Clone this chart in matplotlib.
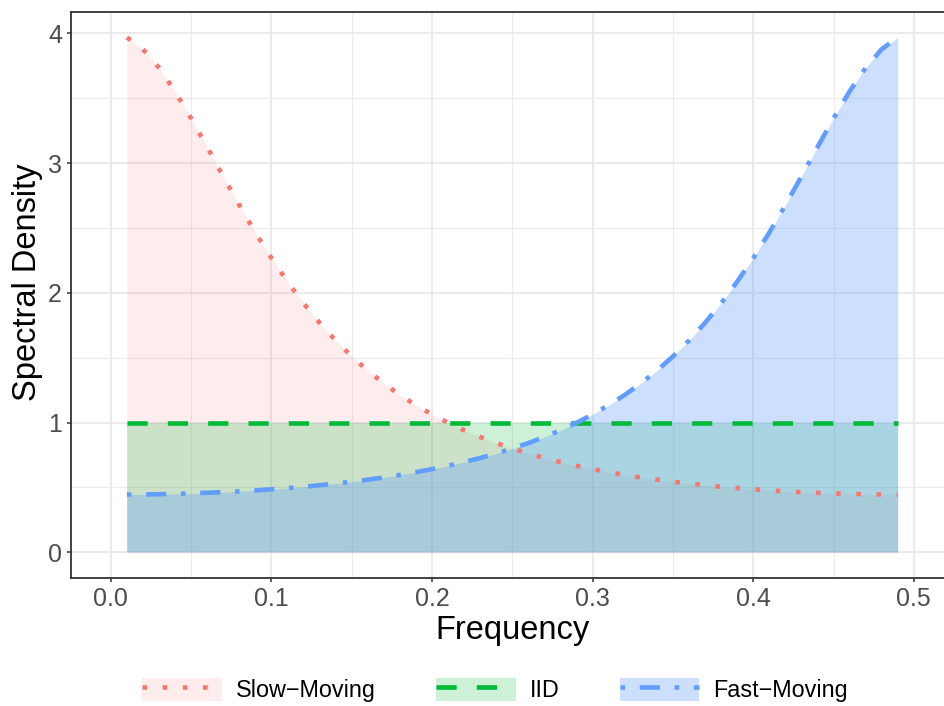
import matplotlib
matplotlib.use("Agg")
import matplotlib.pyplot as plt
from matplotlib.lines import Line2D
from matplotlib.patches import Patch
from matplotlib.ticker import MultipleLocator

plt.rcParams['font.family'] = ['Liberation Sans', 'DejaVu Sans']

freq = [0.01, 0.02, 0.03, 0.04, 0.05, 0.06, 0.07, 0.08, 0.09, 0.10,
        0.11, 0.12, 0.13, 0.14, 0.15, 0.16, 0.17, 0.18, 0.19, 0.20,
        0.21, 0.22, 0.23, 0.24, 0.25, 0.26, 0.27, 0.28, 0.29, 0.30,
        0.31, 0.32, 0.33, 0.34, 0.35, 0.36, 0.37, 0.38, 0.39, 0.40,
        0.41, 0.42, 0.43, 0.44, 0.45, 0.46, 0.47, 0.48, 0.49]
slow = [3.969, 3.878, 3.735, 3.553, 3.345, 3.123, 2.897, 2.676, 2.465, 2.268,
        2.086, 1.919, 1.769, 1.632, 1.510, 1.400, 1.302, 1.213, 1.134, 1.063,
        0.999, 0.941, 0.889, 0.842, 0.800, 0.762, 0.727, 0.696, 0.667, 0.641,
        0.618, 0.597, 0.577, 0.560, 0.544, 0.530, 0.517, 0.505, 0.495, 0.486,
        0.477, 0.470, 0.464, 0.459, 0.454, 0.451, 0.448, 0.446, 0.445]
iid = [1.0] * 49
fast = [0.445, 0.446, 0.448, 0.451, 0.454, 0.459, 0.464, 0.470, 0.477, 0.486,
        0.495, 0.505, 0.517, 0.530, 0.544, 0.560, 0.577, 0.597, 0.618, 0.641,
        0.667, 0.696, 0.727, 0.762, 0.800, 0.842, 0.889, 0.941, 0.999, 1.063,
        1.134, 1.213, 1.302, 1.400, 1.510, 1.632, 1.769, 1.919, 2.086, 2.268,
        2.465, 2.676, 2.897, 3.123, 3.345, 3.553, 3.735, 3.878, 3.969]

labels = ['Slow\u2212Moving', 'IID', 'Fast\u2212Moving']
colors = ['#F8766D', '#00BA38', '#619CFF']
alphas = [0.13, 0.2, 0.32]
styles = [(0, (1, 3.4)), (0, (4.4, 4.4)), (0, (1, 3.2, 4.4, 3.2))]
series = [slow, iid, fast]

fig = plt.figure(figsize=(9.45, 7.06), dpi=100)
ax = fig.add_axes([0.0748, 0.1813, 0.9347, 0.8021])

# shaded areas first, then the curves on top
for y, c, a in zip(series, colors, alphas):
    ax.fill_between(freq, 0, y, color=c, alpha=a, linewidth=0)
for y, c, ls in zip(series, colors, styles):
    ax.plot(freq, y, color=c, linestyle=ls, linewidth=3.3, dash_capstyle='butt')

ax.set_xlim(-0.025, 0.525)
ax.set_ylim(-0.198, 4.167)
ax.xaxis.set_major_locator(MultipleLocator(0.1))
ax.xaxis.set_minor_locator(MultipleLocator(0.05))
ax.yaxis.set_major_locator(MultipleLocator(1))
ax.yaxis.set_minor_locator(MultipleLocator(0.5))
ax.xaxis.set_major_formatter(plt.FuncFormatter(lambda v, p: '%.1f' % v))

ax.set_axisbelow(True)
ax.grid(which='major', color='#EBEBEB', linewidth=1.5)
ax.grid(which='minor', color='#EBEBEB', linewidth=0.8)
ax.tick_params(which='major', length=3.2, width=1.1, color='#333333',
               labelsize=18, labelcolor='#4D4D4D', pad=3)
ax.tick_params(which='minor', length=0)
for s in ax.spines.values():
    s.set_color('#333333')
    s.set_linewidth(1.3)

ax.set_xlabel('Frequency', fontsize=23.5, labelpad=3)
ax.set_ylabel('Spectral Density', fontsize=23.5)
ax.yaxis.set_label_coords(-0.031, 0.522)

handles = []
for c, a, ls in zip(colors, alphas, styles):
    handles.append((Patch(facecolor=c, alpha=a, linewidth=0),
                    Line2D([], [], color=c, linestyle=ls, linewidth=3.3, dash_capstyle='butt')))
fig.legend(handles, labels, loc='center', bbox_to_anchor=(0.524, 0.0227), ncol=3,
           frameon=False, fontsize=16.8, handlelength=3.4, handleheight=1.2,
           handletextpad=0.6, columnspacing=2.6, borderpad=0)

fig.savefig('out.png', dpi=100)
